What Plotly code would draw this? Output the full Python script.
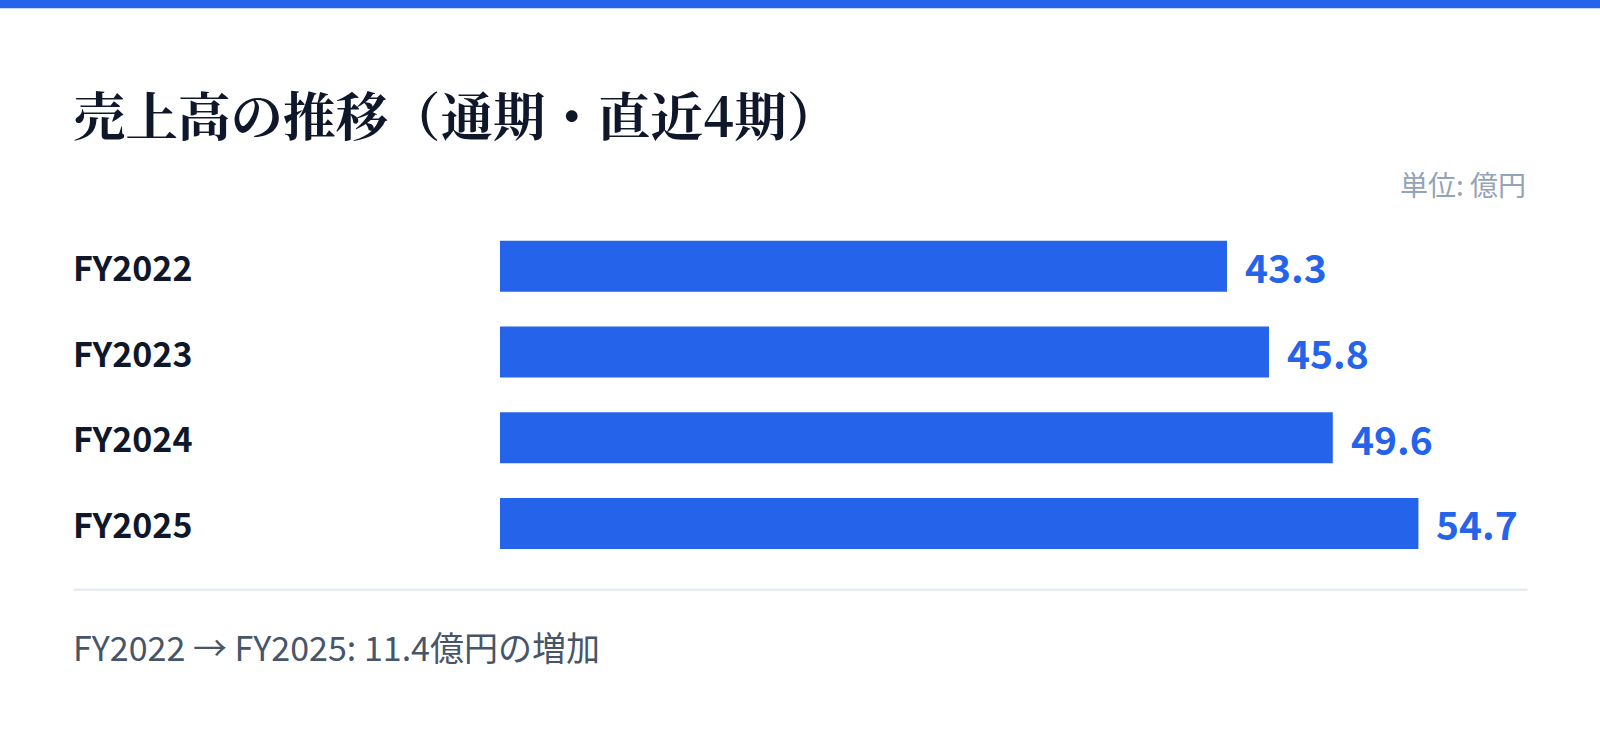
import plotly.graph_objects as go

W, H = 1600, 733
K = 1600 / 1568

periods = ["FY2022", "FY2023", "FY2024", "FY2025"]
sales = [43.3, 45.8, 49.6, 54.7]
value_labels = ["43.3", "45.8", "49.6", "54.7"]

title_text = "売上高の推移（通期・直近4期）"
unit_text = "単位: 億円"
footer_text = "FY2022 → FY2025: 11.4億円の増加"

BLUE = "#2563eb"
DARK = "#0f172a"
SANS = "Noto Sans CJK JP, Noto Sans, sans-serif"
SERIF = "Noto Serif CJK JP, Noto Sans CJK JP, serif"


def px_x(v):
    return v * K / W


def px_y(v):
    return 1 - v * K / H


fig = go.Figure()
fig.add_trace(go.Bar(
    x=sales,
    y=periods,
    orientation="h",
    marker=dict(color=BLUE, line_width=0),
    hoverinfo="skip",
))

annotations = []
# category labels, left aligned at the card edge
for p in periods:
    annotations.append(dict(
        x=px_x(69.5), xref="paper", y=p, yref="y",
        text="<b>%s</b>" % p, showarrow=False, xanchor="left", yanchor="middle",
        font=dict(family=SANS, size=34, color=DARK),
    ))
# value labels right of each bar
for p, v, lab in zip(periods, sales, value_labels):
    annotations.append(dict(
        x=v, xref="x", y=p, yref="y",
        text="<b>%s</b>" % lab, showarrow=False, xanchor="left", yanchor="middle",
        xshift=16, font=dict(family=SANS, size=39, color=BLUE),
    ))

annotations += [
    dict(x=px_x(70), y=px_y(111), xref="paper", yref="paper", text="<b>%s</b>" % title_text,
         showarrow=False, xanchor="left", yanchor="middle",
         font=dict(family=SERIF, size=52.5, color=DARK)),
    dict(x=px_x(1497), y=px_y(180), xref="paper", yref="paper", text=unit_text,
         showarrow=False, xanchor="right", yanchor="middle",
         font=dict(family=SANS, size=28, color="#94a3b8")),
    dict(x=px_x(69.5), y=px_y(634), xref="paper", yref="paper", text=footer_text,
         showarrow=False, xanchor="left", yanchor="middle",
         font=dict(family=SANS, size=34, color="#475569")),
]

shapes = [
    dict(type="rect", xref="paper", yref="paper", x0=0, x1=1, y0=px_y(8), y1=1,
         fillcolor=BLUE, line_width=0, layer="above"),
    dict(type="line", xref="paper", yref="paper", x0=px_x(72), x1=px_x(1497),
         y0=px_y(578), y1=px_y(578), line=dict(color="#e2e8f0", width=2)),
]

fig.update_layout(
    width=W, height=H,
    margin=dict(l=0, r=0, t=0, b=0),
    paper_bgcolor="white", plot_bgcolor="white",
    showlegend=False,
    bargap=0.405,
    xaxis=dict(domain=[px_x(490), px_x(1497)], range=[0, 61.2], visible=False, fixedrange=True),
    yaxis=dict(domain=[px_y(555), px_y(219)], autorange="reversed", visible=False, fixedrange=True),
    annotations=annotations,
    shapes=shapes,
)

fig.write_html(
    "out.html",
    config={"displayModeBar": False},
    post_script="document.body.style.margin='0';document.body.style.overflow='hidden';",
)
